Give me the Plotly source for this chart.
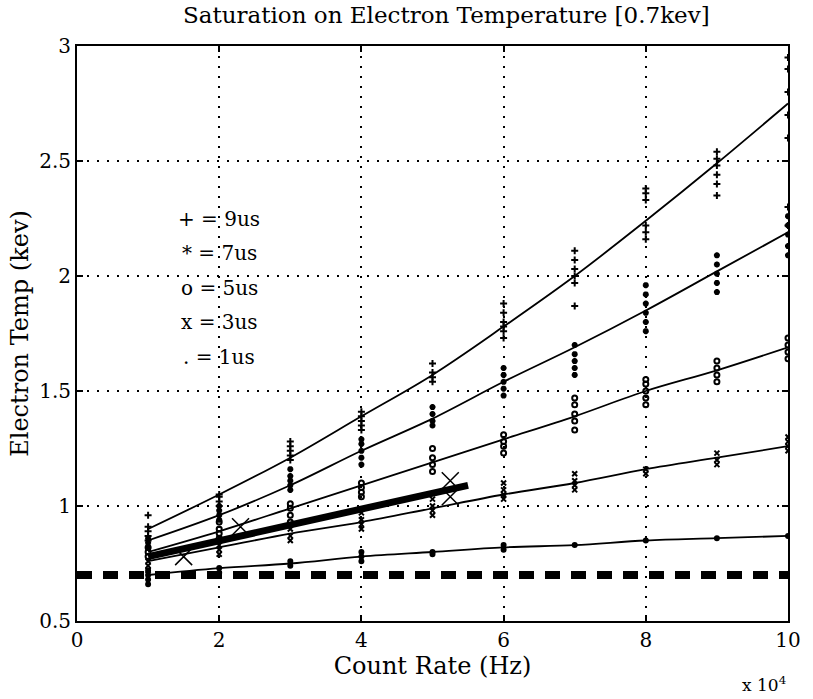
import plotly.graph_objects as go

# ---------------- data ----------------
count_rate = [10000, 20000, 30000, 40000, 50000, 60000, 70000, 80000, 90000, 100000]

fit_9us = [0.90, 1.05, 1.21, 1.39, 1.57, 1.78, 2.00, 2.24, 2.49, 2.75]
fit_7us = [0.85, 0.96, 1.09, 1.24, 1.38, 1.54, 1.69, 1.85, 2.02, 2.19]
fit_5us = [0.80, 0.89, 0.99, 1.09, 1.19, 1.29, 1.39, 1.50, 1.59, 1.69]
fit_3us = [0.76, 0.82, 0.88, 0.93, 0.99, 1.05, 1.10, 1.16, 1.21, 1.26]
fit_1us = [0.70, 0.73, 0.75, 0.78, 0.80, 0.82, 0.83, 0.85, 0.86, 0.87]

pts_9us = [[0.85, 0.87, 0.89, 0.91, 0.96], [1.00, 1.02, 1.04, 1.05],
           [1.20, 1.22, 1.24, 1.26, 1.28], [1.33, 1.35, 1.37, 1.39, 1.41],
           [1.54, 1.56, 1.58, 1.62], [1.73, 1.76, 1.78, 1.80, 1.84, 1.88],
           [1.87, 1.97, 2.00, 2.03, 2.07, 2.11], [2.16, 2.19, 2.22, 2.33, 2.36, 2.38],
           [2.35, 2.40, 2.44, 2.48, 2.51, 2.54], [2.22, 2.30, 2.60, 2.70, 2.80, 2.90, 2.95]]
pts_7us = [[0.82, 0.84, 0.86], [0.94, 0.96, 0.98, 1.00],
           [1.07, 1.09, 1.11, 1.13, 1.16], [1.18, 1.21, 1.24, 1.27, 1.29],
           [1.35, 1.37, 1.40, 1.43], [1.48, 1.51, 1.54, 1.57, 1.60],
           [1.57, 1.60, 1.63, 1.66, 1.70], [1.76, 1.80, 1.84, 1.88, 1.92, 1.96],
           [1.93, 1.97, 2.01, 2.05, 2.09], [2.09, 2.13, 2.18, 2.22, 2.26]]
pts_5us = [[0.78, 0.80, 0.82], [0.86, 0.88, 0.90, 0.93],
           [0.93, 0.96, 0.99, 1.01], [1.04, 1.06, 1.08, 1.10],
           [1.15, 1.18, 1.21, 1.25], [1.23, 1.26, 1.28, 1.31],
           [1.33, 1.37, 1.40, 1.44, 1.47], [1.44, 1.47, 1.50, 1.53, 1.55],
           [1.54, 1.57, 1.60, 1.63], [1.64, 1.67, 1.70, 1.73]]
pts_3us = [[0.72, 0.74, 0.76], [0.79, 0.81, 0.83],
           [0.85, 0.87, 0.90], [0.90, 0.92, 0.94, 0.97],
           [0.96, 0.98, 1.00, 1.03], [1.03, 1.05, 1.07, 1.10],
           [1.07, 1.09, 1.11, 1.14], [1.14, 1.16],
           [1.18, 1.20, 1.23], [1.24, 1.26, 1.28, 1.30]]
pts_1us = [[0.66, 0.68, 0.70, 0.72], [0.71, 0.73], [0.74, 0.76],
           [0.76, 0.78, 0.80], [0.79, 0.80], [0.81, 0.83], [0.83],
           [0.85], [0.86], [0.87]]

thick_x = [10000, 55000]
thick_y = [0.78, 1.09]
xmark_x = [15000, 23000, 52500, 52500]
xmark_y = [0.78, 0.91, 1.11, 1.04]

sat_level = 0.7
sat_x = [0, 100000]

legend_lines = ["+ = 9us", "* = 7us", "o = 5us", "x = 3us", ". = 1us"]
legend_y = [2.25, 2.10, 1.95, 1.80, 1.65]

x_tickvals = [0, 20000, 40000, 60000, 80000, 100000]
x_ticktext = ["0", "2", "4", "6", "8", "10"]
y_tickvals = [0.5, 1, 1.5, 2, 2.5, 3]
y_ticktext = ["0.5", "1", "1.5", "2", "2.5", "3"]

FONT = "DejaVu Serif, Liberation Serif, serif"

fig = go.Figure()

# scatter clusters
series = [
    (pts_9us, "cross-thin-open", 5),
    (pts_7us, "asterisk-open", 5),
    (pts_5us, "circle-open", 5),
    (pts_3us, "x-thin-open", 5),
    (pts_1us, "circle", 4),
]
for pts, sym, sz in series:
    xs, ys = [], []
    for xv, group in zip(count_rate, pts):
        for yv in group:
            xs.append(xv)
            ys.append(yv)
    fig.add_trace(go.Scatter(x=xs, y=ys, mode="markers",
                             marker=dict(symbol=sym, size=sz, color="black",
                                         line=dict(color="black", width=2)),
                             showlegend=False, hoverinfo="skip"))

# fit curves
for fit in [fit_9us, fit_7us, fit_5us, fit_3us, fit_1us]:
    fig.add_trace(go.Scatter(x=count_rate, y=fit, mode="lines",
                             line=dict(color="black", width=1.8, shape="spline"),
                             showlegend=False))

# saturation dashed line
fig.add_trace(go.Scatter(x=sat_x, y=[sat_level] * len(sat_x), mode="lines",
                         line=dict(color="black", width=8, dash="15px,11px"),
                         showlegend=False))

# thick line
fig.add_trace(go.Scatter(x=thick_x, y=thick_y, mode="lines",
                         line=dict(color="black", width=7),
                         showlegend=False))

# big X markers
fig.add_trace(go.Scatter(x=xmark_x, y=xmark_y, mode="markers",
                         marker=dict(symbol="x-thin-open", size=17, color="black",
                                     line=dict(color="black", width=1.5)),
                         showlegend=False))

# legend text
for txt, yv in zip(legend_lines, legend_y):
    fig.add_annotation(x=20000, y=yv, xref="x", yref="y", text=txt,
                       showarrow=False, xanchor="center",
                       font=dict(family=FONT, size=20, color="black"))

fig.add_annotation(x=1.0, y=-0.133, xref="paper", yref="paper",
                   text="x 10<sup>4</sup>", showarrow=False,
                   xanchor="right", yanchor="bottom",
                   font=dict(family=FONT, size=17, color="black"))

axis_common = dict(showline=True, linecolor="black", linewidth=2, mirror="ticks",
                   ticks="inside", ticklen=6, tickcolor="black", tickwidth=1.5,
                   showgrid=True, gridcolor="black", griddash="2px,8px", gridwidth=1.5,
                   zeroline=False,
                   tickfont=dict(family=FONT, size=20, color="black"))

fig.update_xaxes(range=[0, 100000], tickvals=x_tickvals, ticktext=x_ticktext,
                 title=dict(text="Count Rate (Hz)", standoff=2,
                            font=dict(family=FONT, size=24, color="black")),
                 **axis_common)
fig.update_yaxes(range=[0.5, 3], tickvals=y_tickvals, ticktext=y_ticktext,
                 title=dict(text="Electron Temp (kev)", standoff=4,
                            font=dict(family=FONT, size=24, color="black")),
                 **axis_common)

fig.update_layout(
    width=813, height=699,
    margin=dict(l=77, r=13, t=46, b=78),
    paper_bgcolor="white", plot_bgcolor="white",
    title=dict(text="Saturation on Electron Temperature [0.7kev]",
               x=0.549, xanchor="center", y=0.979, yanchor="middle",
               font=dict(family=FONT, size=23, color="black")),
)

fig.write_html("out.html")
